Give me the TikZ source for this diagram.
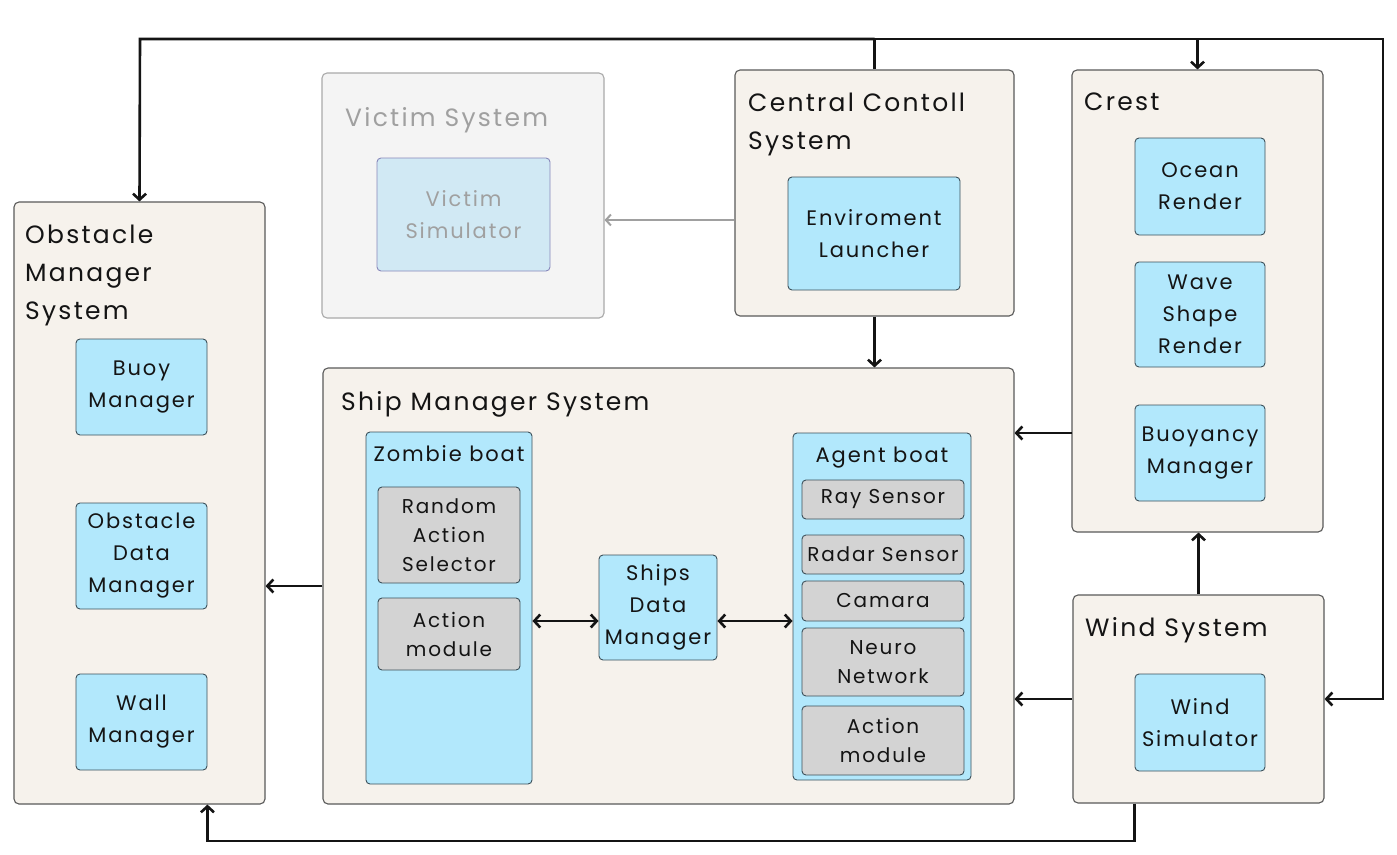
\documentclass[tikz,border=0pt]{standalone}
\usepackage{fontspec}
\setmainfont[LetterSpace=9]{Poppins}
\usepackage{tikz}
\usetikzlibrary{positioning}
\usetikzlibrary{arrows.meta}
\definecolor{sysFill}{RGB}{246,242,236}
\definecolor{sysLine}{RGB}{90,90,90}
\definecolor{modFill}{RGB}{178,232,252}
\definecolor{modLine}{RGB}{60,80,90}
\definecolor{partFill}{RGB}{211,211,211}
\definecolor{dimFill}{RGB}{244,244,244}
\definecolor{dimLine}{RGB}{170,170,170}
\definecolor{dimModFill}{RGB}{209,233,244}
\definecolor{dimText}{RGB}{160,160,160}
\definecolor{inkColor}{RGB}{20,20,20}

\begin{document}
\begin{tikzpicture}[x={(1pt,0)}, y={(0,-1pt)}]

            \tikzstyle{sysBox} = [draw=sysLine, fill=sysFill, line width=1.1pt, rounded corners=5pt];
            \tikzstyle{dimBox} = [draw=dimLine, fill=dimFill, line width=1.1pt, rounded corners=5pt];
            \tikzstyle{moduleNode} = [draw=modLine, fill=modFill, line width=0.9pt, rounded corners=4pt, align=center, text=inkColor, font=\fontsize{21}{32}\selectfont];
            \tikzstyle{dimModule} = [moduleNode, draw=dimLine!80!blue, fill=dimModFill, text=dimText];
            \tikzstyle{partNode} = [moduleNode, fill=partFill, font=\fontsize{20}{29}\selectfont];
            \tikzstyle{sysTitle} = [anchor=north west, align=left, inner sep=0pt, text=inkColor, font=\fontsize{25}{38}\selectfont];
            \tikzstyle{subTitle} = [inner sep=0pt, text=inkColor, font=\fontsize{21}{30}\selectfont];
            \tikzstyle{flowEdge} = [line width=2.6pt, inkColor, -{Straight Barb[length=6pt,width=13pt]}];
            \tikzstyle{dimEdge} = [line width=2pt, dimText, -{Straight Barb[length=5pt,width=11pt]}];
            \tikzstyle{bothEdge} = [flowEdge, {Straight Barb[length=6pt,width=13pt]}-{Straight Barb[length=6pt,width=13pt]}];

            \fill[white] (0,0) rectangle (1397,854);
            \useasboundingbox (0,0) rectangle (1397,854);

            % outer systems
            \node[sysBox, minimum width=251, minimum height=602] (obst)   at (139.5,503) {};
            \node[dimBox, minimum width=282, minimum height=245] (victim) at (463,195.5) {};
            \node[sysBox, minimum width=279, minimum height=246] (ctrl)   at (874.5,193) {};
            \node[sysBox, minimum width=251, minimum height=462] (crest)  at (1197.5,301) {};
            \node[sysBox, minimum width=691, minimum height=436] (ship)   at (668.5,586) {};
            \node[sysBox, minimum width=251, minimum height=208] (wind)   at (1198.5,699) {};

            \node[sysTitle] (obstTitle)   at (25,225)   {Obstacle\\Manager\\System};
            \node[sysTitle, text=dimText] (victimTitle) at (345,107) {Victim System};
            \node[sysTitle] (ctrlTitle)   at (748,93)   {Central Contoll\\System};
            \node[sysTitle] (crestTitle)  at (1084,93)  {Crest};
            \node[sysTitle] (shipTitle)   at (341,391)  {Ship Manager System};
            \node[sysTitle] (windTitle)   at (1085,617) {Wind System};

            % modules
            \node[moduleNode, minimum width=131, minimum height=96]  (buoy) at (141.5,387) {Buoy\\Manager};
            \node[moduleNode, minimum width=131, minimum height=106] (odm)  at (141.5,556) {Obstacle\\Data\\Manager};
            \node[moduleNode, minimum width=131, minimum height=96]  (wall) at (141.5,722) {Wall\\Manager};

            \node[dimModule, minimum width=173, minimum height=113] (vsim) at (463.5,214.5) {Victim\\Simulator};
            \node[moduleNode, minimum width=172, minimum height=113] (envl) at (874,233.5) {Enviroment\\Launcher};

            \node[moduleNode, minimum width=130, minimum height=97]  (ocean)    at (1200,186.5) {Ocean\\Render};
            \node[moduleNode, minimum width=130, minimum height=105] (wave)     at (1200,314.5) {Wave\\Shape\\Render};
            \node[moduleNode, minimum width=130, minimum height=96]  (buoyancy) at (1200,453)   {Buoyancy\\Manager};

            \node[moduleNode, minimum width=130, minimum height=97] (wsim) at (1200,722.5) {Wind\\Simulator};

            % ship manager internals
            \node[moduleNode, minimum width=166, minimum height=352] (zombie) at (449,608) {};
            \node[subTitle, below=14pt of zombie.north] (zombieTitle) {Zombie boat};
            \node[partNode, minimum width=142, minimum height=96] (rand) at (449,535) {Random\\Action\\Selector};
            \node[partNode, minimum width=142, minimum height=72] (zact) at (449,634) {Action\\module};

            \node[moduleNode, minimum width=118, minimum height=105] (sdm) at (658,607.5) {Ships\\Data\\Manager};

            \node[moduleNode, minimum width=178, minimum height=347] (agent) at (882,606.5) {};
            \node[subTitle, below=14pt of agent.north] (agentTitle) {Agent boat};
            \node[partNode, minimum width=162, minimum height=39] (ray)   at (883,499.5) {Ray Sensor};
            \node[partNode, minimum width=162, minimum height=39] (radar) at (883,554.5) {Radar Sensor};
            \node[partNode, minimum width=162, minimum height=40] (cam)   at (883,601)   {Camara};
            \node[partNode, minimum width=162, minimum height=68] (neuro) at (883,662)   {Neuro\\Network};
            \node[partNode, minimum width=162, minimum height=69] (aact)  at (883,740.5) {Action\\module};

            % routing points
            \coordinate (topL) at (140,39);
            \coordinate (topR) at (1383,39);
            \coordinate (botY) at (0,841);
            \coordinate (crestOut) at (1072,433);
            \coordinate (link) at (0,621);
            \coordinate (victimIn) at (0,220);

            \draw[flowEdge] (ctrl.north |- topL) -- (topL) -- (obst.north);
            \draw[flowEdge] (ctrl.north) -- (ctrl.north |- topR) -- (topR) -- (topR |- wind.east) -- (wind.east);
            \draw[flowEdge] (crest.north |- topL) -- (crest.north);
            \draw[dimEdge] (ctrl.west |- victimIn) -- (victim.east |- victimIn);
            \draw[flowEdge] (ctrl.south) -- (ctrl.south |- ship.north);
            \draw[flowEdge] (crestOut) -- (ship.east |- crestOut);
            \draw[flowEdge] (wind.north) -- (wind.north |- crest.south);
            \draw[flowEdge] (wind.west) -- (ship.east |- wind.west);
            \draw[flowEdge] (ship.west) -- (obst.east |- ship.west);
            \draw[flowEdge] (wsim.west |- wind.south) -- (wsim.west |- botY) -- (wall.east |- botY) -- (wall.east |- obst.south);
            \draw[bothEdge] (zombie.east |- link) -- (sdm.west |- link);
            \draw[bothEdge] (sdm.east |- link) -- (agent.west |- link);
          \end{tikzpicture}
\end{document}
